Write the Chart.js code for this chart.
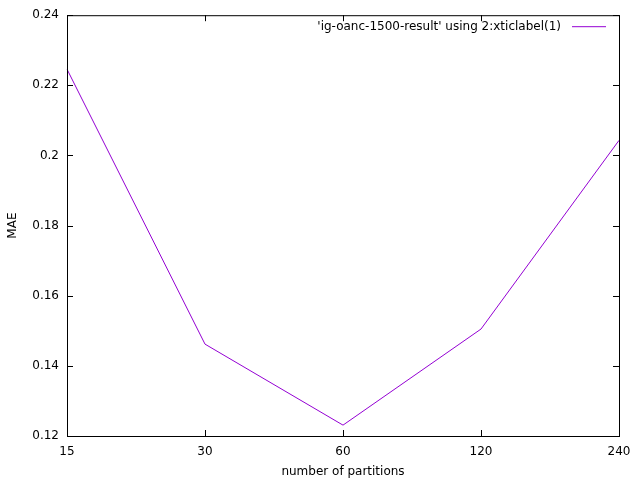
<!DOCTYPE html>
<html><head><meta charset="utf-8">
<script src="https://cdn.jsdelivr.net/npm/chart.js@4.4.0/dist/chart.umd.min.js"></script>
<style>html,body{margin:0;padding:0;background:#fff}#wrap{width:640px;height:480px}</style>
</head><body><div id="wrap"><canvas id="c" width="640" height="480"></canvas></div>
<script>
const categories = ['15', '30', '60', '120', '240'];
const maeValues = [0.2246, 0.1462, 0.1231, 0.1505, 0.2043];
const seriesLabel = "'ig-oanc-1500-result' using 2:xticlabel(1)";
const yTicks = [0.12, 0.14, 0.16, 0.18, 0.2, 0.22, 0.24];

const FONT = '"DejaVu Sans", sans-serif';
const mirrorTicks = {
  id: 'mirrorTicks',
  afterDatasetsDraw(chart) {
    const {ctx, chartArea: a, scales: {x, y}} = chart;
    ctx.save();
    ctx.strokeStyle = '#000';
    ctx.lineWidth = 1;
    x.ticks.forEach((t, i) => {
      const px = Math.round(x.getPixelForTick(i)) + 0.5;
      ctx.beginPath();
      ctx.moveTo(px, a.bottom); ctx.lineTo(px, a.bottom - 6);
      ctx.moveTo(px, a.top); ctx.lineTo(px, a.top + 6);
      ctx.stroke();
    });
    y.ticks.forEach((t, i) => {
      const py = Math.round(y.getPixelForTick(i)) + 0.5;
      ctx.beginPath();
      ctx.moveTo(a.left, py); ctx.lineTo(a.left + 6, py);
      ctx.moveTo(a.right, py); ctx.lineTo(a.right - 6, py);
      ctx.stroke();
    });
    ctx.strokeStyle = '#000';
    ctx.strokeRect(a.left + 0.5, a.top + 0.5, a.right - a.left, a.bottom - a.top);
    // key
    const ds = chart.data.datasets[0];
    ctx.font = '12px ' + FONT;
    ctx.fillStyle = '#000';
    ctx.textAlign = 'right';
    ctx.textBaseline = 'middle';
    ctx.fillText(ds.label, a.right - 58, a.top + 12);
    ctx.strokeStyle = ds.borderColor;
    ctx.beginPath();
    ctx.moveTo(a.right - 47, a.top + 11.5); ctx.lineTo(a.right - 13, a.top + 11.5);
    ctx.stroke();
    ctx.restore();
  }
};

new Chart(document.getElementById('c'), {
  type: 'line',
  data: {
    labels: categories,
    datasets: [{
      label: seriesLabel,
      data: maeValues,
      borderColor: '#9400d3',
      borderWidth: 1,
      pointRadius: 0,
      tension: 0,
      fill: false
    }]
  },
  options: {
    responsive: false,
    animation: false,
    layout: {padding: {top: 15, right: 21, left: 0, bottom: 0}},
    plugins: {legend: {display: false}, tooltip: {enabled: false}},
    scales: {
      x: {
        type: 'category',
        offset: false,
        grid: {display: false, drawTicks: false},
        border: {display: false},
        ticks: {color: '#000', font: {family: FONT, size: 12}, padding: 9, maxRotation: 0},
        title: {display: true, text: 'number of partitions', color: '#000', font: {family: FONT, size: 12}, padding: {top: 5, bottom: 1}},
        afterFit(s) { s.height = 44; }
      },
      y: {
        min: 0.12, max: 0.24,
        afterBuildTicks(s) { s.ticks = yTicks.map(v => ({value: v})); },
        grid: {display: false, drawTicks: false},
        border: {display: false},
        ticks: {color: '#000', font: {family: FONT, size: 12}, padding: 8,
          callback: v => String(+v.toFixed(2))},
        title: {display: true, text: 'MAE', color: '#000', font: {family: FONT, size: 12}, padding: {top: 6, bottom: 4}},
        afterFit(s) { s.width = 67; }
      }
    }
  },
  plugins: [mirrorTicks]
});
</script></body></html>
